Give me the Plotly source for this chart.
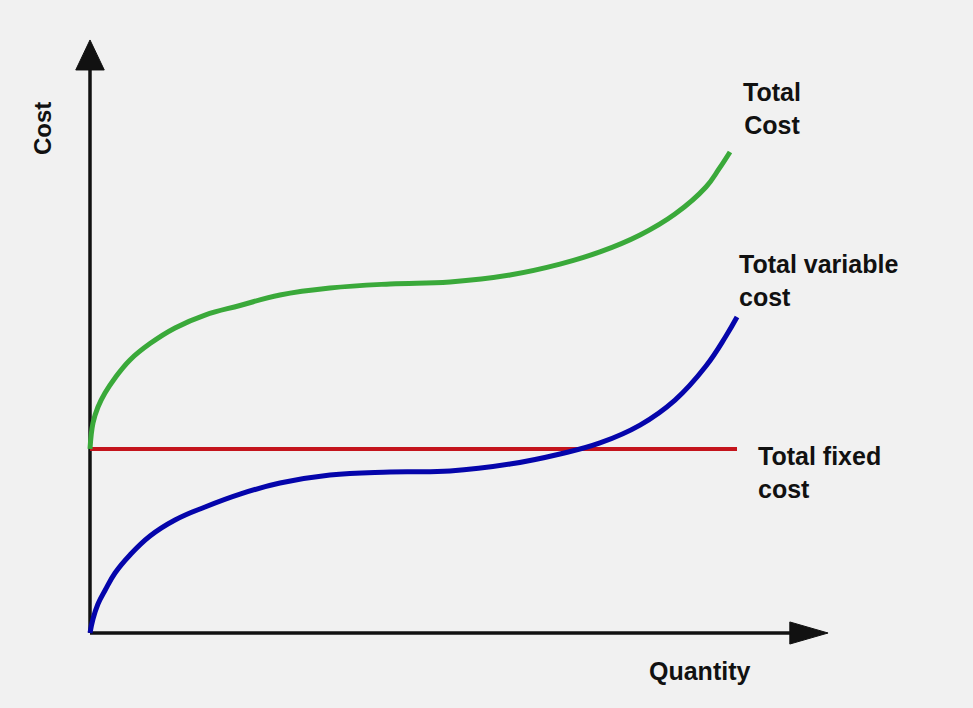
import plotly.graph_objects as go

# Data (quantity units 0..100, cost units; fixed cost = 100)
quantity_tvc = [0, 0.46, 1.23, 2.31, 3.86, 6.17, 9.26, 13.12, 17.75, 23.15, 29.32, 37.04, 46.30,
                55.56, 64.81, 72.53, 78.70, 84.88, 90.28, 95.06, 98.15, 99.85]
tvc = [0, 7.6, 15.8, 23.1, 32.6, 42.4, 52.7, 61.4, 68.5, 75.5, 81.5, 85.9, 87.5,
       88.0, 91.8, 97.3, 103.3, 113.0, 126.6, 145.1, 161.4, 171.7]

quantity_tc = [0, 0.46, 1.23, 2.31, 3.86, 6.17, 9.26, 13.12, 17.75, 23.15, 29.32, 37.04, 46.30,
               55.56, 64.81, 72.53, 78.70, 84.88, 90.28, 95.06, 97.07, 98.77]
tc = [100, 114.1, 122.8, 130.4, 138.6, 148.4, 157.3, 165.8, 172.8, 178.0, 183.7, 187.5, 189.7,
      190.8, 194.6, 200.5, 207.1, 216.3, 227.7, 242.4, 252.2, 261.4]

quantity_tfc = [0, 99.85]
tfc = [100, 100]

x_range = [-13.89, 136.27]
y_range = [-40.76, 344.02]

FONT = "Arial, Liberation Sans, sans-serif"

fig = go.Figure()
fig.add_trace(go.Scatter(x=quantity_tfc, y=tfc, mode="lines",
                         line=dict(color="#c4141c", width=4), hoverinfo="skip"))
fig.add_trace(go.Scatter(x=quantity_tc, y=tc, mode="lines",
                         line=dict(color="#3aa93a", width=5, shape="spline", smoothing=1.2), hoverinfo="skip"))
fig.add_trace(go.Scatter(x=quantity_tvc, y=tvc, mode="lines",
                         line=dict(color="#0505ab", width=5, shape="spline", smoothing=1.2), hoverinfo="skip"))

axis_col = "#111111"
# axis lines
fig.add_shape(type="line", x0=0, y0=0, x1=0, y1=307, line=dict(color=axis_col, width=3.5), layer="below")
fig.add_shape(type="line", x0=0, y0=0, x1=108.5, y1=0, line=dict(color=axis_col, width=3.5), layer="below")
# arrow heads
fig.add_shape(type="path", path="M -2.2,306 L 0,322.3 L 2.2,306 Z",
              fillcolor=axis_col, line=dict(color=axis_col, width=1))
fig.add_shape(type="path", path="M 108,-6 L 113.9,0 L 108,6 Z",
              fillcolor=axis_col, line=dict(color=axis_col, width=1))

lab = dict(family=FONT, size=25, color="#111111")
fig.add_annotation(x=100.5, y=284.8, text="<b>Total<br>Cost</b>", showarrow=False,
                   xanchor="left", yanchor="middle", align="center", font=lab)
fig.add_annotation(x=99.85, y=191.8, text="<b>Total variable<br>cost</b>", showarrow=False,
                   xanchor="left", yanchor="middle", align="left", font=lab)
fig.add_annotation(x=102.8, y=87.5, text="<b>Total fixed<br>cost</b>", showarrow=False,
                   xanchor="left", yanchor="middle", align="left", font=lab)
fig.add_annotation(x=94.1, y=-20.65, text="<b>Quantity</b>", showarrow=False,
                   xanchor="center", yanchor="middle", font=lab)
fig.add_annotation(x=-7.4, y=273.9, text="<b>Cost</b>", showarrow=False, textangle=-90,
                   xanchor="center", yanchor="middle", font=dict(family=FONT, size=24, color="#111111"))

fig.update_layout(
    width=973, height=708,
    margin=dict(l=0, r=0, t=0, b=0),
    paper_bgcolor="#f1f1f1", plot_bgcolor="#f1f1f1",
    showlegend=False,
    xaxis=dict(range=x_range, visible=False, fixedrange=True),
    yaxis=dict(range=y_range, visible=False, fixedrange=True),
)

fig.write_html("out.html", config={"displayModeBar": False},
               post_script="document.body.style.margin='0';document.body.style.background='#f1f1f1';")
